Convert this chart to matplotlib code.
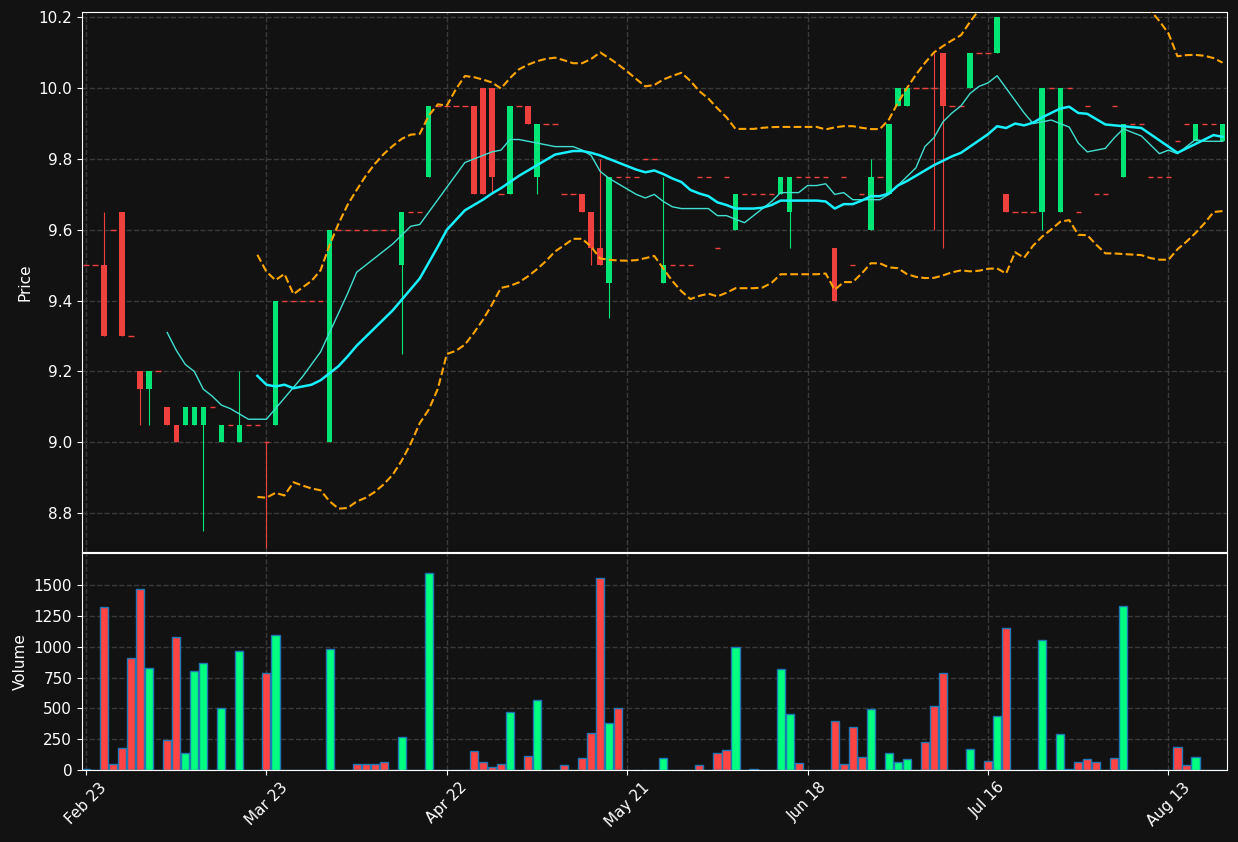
import numpy as np
import pandas as pd
import matplotlib
matplotlib.use('Agg')
import matplotlib.pyplot as plt

# daily OHLC + volume
opens = [9.5, 9.5, 9.5, 9.6, 9.65, 9.3, 9.2, 9.15, 9.2, 9.1,
         9.05, 9.05, 9.05, 9.05, 9.1, 9.0, 9.05, 9.0, 9.05, 9.05,
         9.0, 9.05, 9.4, 9.4, 9.4, 9.4, 9.4, 9.0, 9.6, 9.6,
         9.6, 9.6, 9.6, 9.6, 9.6, 9.5, 9.65, 9.65, 9.75, 9.95,
         9.95, 9.95, 9.95, 9.95, 10.0, 10.0, 9.7, 9.7, 9.95, 9.95,
         9.75, 9.9, 9.9, 9.7, 9.7, 9.7, 9.65, 9.55, 9.45, 9.75,
         9.75, 9.75, 9.8, 9.8, 9.45, 9.5, 9.5, 9.5, 9.75, 9.75,
         9.55, 9.75, 9.6, 9.7, 9.7, 9.7, 9.7, 9.7, 9.65, 9.75,
         9.75, 9.75, 9.75, 9.55, 9.75, 9.5, 9.7, 9.6, 9.75, 9.7,
         9.95, 9.95, 10.0, 10.0, 10.0, 10.1, 9.95, 9.95, 10.0, 10.1,
         10.1, 10.1, 9.7, 9.65, 9.65, 9.65, 9.65, 10.0, 9.65, 10.0,
         9.65, 9.95, 9.7, 9.7, 9.95, 9.75, 9.9, 9.9, 9.75, 9.75,
         9.75, 9.85, 9.9, 9.85, 9.9, 9.9, 9.85]
highs = [9.5, 9.5, 9.65, 9.6, 9.65, 9.3, 9.2, 9.2, 9.2, 9.1,
         9.05, 9.1, 9.1, 9.1, 9.1, 9.05, 9.05, 9.2, 9.05, 9.05,
         9.0, 9.4, 9.4, 9.4, 9.4, 9.4, 9.4, 9.6, 9.6, 9.6,
         9.6, 9.6, 9.6, 9.6, 9.6, 9.65, 9.65, 9.65, 9.95, 9.95,
         9.95, 9.95, 9.95, 9.95, 10.0, 10.0, 9.7, 9.95, 9.95, 9.95,
         9.9, 9.9, 9.9, 9.7, 9.7, 9.7, 9.65, 9.8, 9.75, 9.75,
         9.75, 9.75, 9.8, 9.8, 9.75, 9.5, 9.5, 9.5, 9.75, 9.75,
         9.55, 9.75, 9.7, 9.7, 9.7, 9.7, 9.7, 9.75, 9.75, 9.75,
         9.75, 9.75, 9.75, 9.55, 9.75, 9.5, 9.7, 9.8, 9.75, 9.9,
         10.0, 10.0, 10.0, 10.0, 10.1, 10.1, 9.95, 9.95, 10.1, 10.1,
         10.1, 10.2, 9.7, 9.65, 9.65, 9.65, 10.0, 10.0, 10.0, 10.0,
         9.65, 9.95, 9.7, 9.7, 9.95, 9.9, 9.9, 9.9, 9.75, 9.75,
         9.75, 9.85, 9.9, 9.9, 9.9, 9.9, 9.9]
lows = [9.5, 9.5, 9.3, 9.6, 9.3, 9.3, 9.05, 9.05, 9.2, 9.05,
        9.0, 9.05, 9.05, 8.75, 9.1, 9.0, 9.05, 9.0, 9.05, 9.05,
        8.70, 9.05, 9.4, 9.4, 9.4, 9.4, 9.4, 9.0, 9.6, 9.6,
        9.6, 9.6, 9.6, 9.6, 9.6, 9.25, 9.65, 9.65, 9.75, 9.95,
        9.95, 9.95, 9.95, 9.7, 9.7, 9.7, 9.7, 9.7, 9.95, 9.9,
        9.7, 9.9, 9.9, 9.7, 9.7, 9.65, 9.5, 9.5, 9.35, 9.75,
        9.75, 9.75, 9.8, 9.8, 9.45, 9.5, 9.5, 9.5, 9.75, 9.75,
        9.55, 9.75, 9.6, 9.7, 9.7, 9.7, 9.7, 9.7, 9.55, 9.75,
        9.75, 9.75, 9.75, 9.4, 9.75, 9.5, 9.7, 9.6, 9.75, 9.7,
        9.95, 9.95, 10.0, 10.0, 9.6, 9.55, 9.95, 9.95, 10.0, 10.1,
        10.1, 10.1, 9.65, 9.65, 9.65, 9.65, 9.6, 10.0, 9.65, 10.0,
        9.65, 9.95, 9.7, 9.7, 9.95, 9.75, 9.9, 9.9, 9.75, 9.75,
        9.75, 9.85, 9.9, 9.85, 9.9, 9.9, 9.85]
closes = [9.5, 9.5, 9.3, 9.6, 9.3, 9.3, 9.15, 9.2, 9.2, 9.05,
          9.0, 9.1, 9.1, 9.1, 9.1, 9.05, 9.05, 9.05, 9.05, 9.05,
          9.0, 9.4, 9.4, 9.4, 9.4, 9.4, 9.4, 9.6, 9.6, 9.6,
          9.6, 9.6, 9.6, 9.6, 9.6, 9.65, 9.65, 9.65, 9.95, 9.95,
          9.95, 9.95, 9.95, 9.7, 9.7, 9.75, 9.7, 9.95, 9.95, 9.9,
          9.9, 9.9, 9.9, 9.7, 9.7, 9.65, 9.55, 9.5, 9.75, 9.75,
          9.75, 9.75, 9.8, 9.8, 9.5, 9.5, 9.5, 9.5, 9.75, 9.75,
          9.55, 9.75, 9.7, 9.7, 9.7, 9.7, 9.7, 9.75, 9.75, 9.75,
          9.75, 9.75, 9.75, 9.4, 9.75, 9.5, 9.7, 9.75, 9.75, 9.9,
          10.0, 10.0, 10.0, 10.0, 10.0, 9.95, 9.95, 9.95, 10.1, 10.1,
          10.1, 10.2, 9.65, 9.65, 9.65, 9.65, 10.0, 10.0, 10.0, 10.0,
          9.65, 9.95, 9.7, 9.7, 9.95, 9.9, 9.9, 9.9, 9.75, 9.75,
          9.75, 9.85, 9.9, 9.9, 9.9, 9.9, 9.9]
volumes = [5, 0, 1320, 46, 176, 905, 1465, 824, 0, 240,
           1076, 135, 800, 865, 0, 500, 0, 962, 0, 0,
           784, 1092, 0, 0, 0, 0, 0, 978, 0, 0,
           46, 46, 46, 62, 0, 265, 0, 0, 1595, 0,
           0, 0, 0, 151, 62, 27, 46, 468, 0, 111,
           565, 0, 0, 38, 0, 95, 300, 1554, 378, 500,
           0, 0, 0, 0, 95, 0, 0, 0, 38, 0,
           135, 160, 995, 0, 5, 0, 0, 816, 451, 54,
           0, 0, 0, 395, 46, 346, 103, 492, 0, 141,
           62, 86, 0, 224, 516, 784, 0, 0, 168, 0,
           70, 435, 1149, 0, 0, 0, 1051, 0, 289, 5,
           62, 86, 62, 0, 95, 1327, 0, 0, 3, 3,
           0, 184, 38, 103, 0, 0, 0]
tick_labels = ['Feb 23', 'Mar 23', 'Apr 22', 'May 21', 'Jun 18', 'Jul 16', 'Aug 13']

BG = '#121212'
UP = '#00e676'
DOWN = '#ef4040'

df = pd.DataFrame({'open': opens, 'high': highs, 'low': lows, 'close': closes, 'volume': volumes})
x = np.arange(len(df))
ma10 = df['close'].rolling(10).mean()
ma20 = df['close'].rolling(20).mean()
sd20 = df['close'].rolling(20).std(ddof=0)
upper = ma20 + 2 * sd20
lower = ma20 - 2 * sd20

fig = plt.figure(figsize=(12.38, 8.42), dpi=100, facecolor=BG)
ax = fig.add_axes([0.0662, 0.3444, 0.925, 0.6413])
axv = fig.add_axes([0.0662, 0.0855, 0.925, 0.2577], sharex=ax)

up = df['close'] > df['open']
colors = np.where(up, UP, DOWN)

# wicks
ax.vlines(x, df['low'], df['high'], colors=colors, lw=0.8, zorder=2)
# bodies
body = (df['close'] - df['open']).abs()
flat = body < 1e-9
ax.bar(x[~flat], body[~flat], bottom=np.minimum(df['open'], df['close'])[~flat],
       width=0.6, color=colors[~flat], zorder=3)
ax.hlines(df['close'][flat], x[flat] - 0.3, x[flat] + 0.3, colors=colors[flat], lw=1, zorder=3)

ax.plot(x, ma10, color='#40e0d0', lw=1, zorder=4)
ax.plot(x, ma20, color='#18f0ff', lw=1.8, zorder=4)
ax.plot(x, upper, color='orange', lw=1.5, ls='--', zorder=4)
ax.plot(x, lower, color='orange', lw=1.5, ls='--', zorder=4)

axv.bar(x, df['volume'], width=0.9, color=np.where(up, '#00ff80', '#ff4444'),
        edgecolor='#1f77b4', lw=1)

for a in (ax, axv):
    a.set_facecolor(BG)
    a.grid(True, ls='--', color='#3a3a3a', lw=1)
    a.set_axisbelow(True)
    for s in a.spines.values():
        s.set_color('white')
    a.tick_params(colors='white', labelsize=11)

ax.set_xlim(-0.45, 126.5)
ax.set_ylim(8.69, 10.215)
ax.set_ylabel('Price', color='white', fontsize=11)
ax.tick_params(labelbottom=False)
axv.set_ylim(0, 1760)
axv.set_yticks([0, 250, 500, 750, 1000, 1250, 1500])
axv.set_ylabel('Volume', color='white', fontsize=11)
axv.set_xticks(np.arange(0, 121, 20))
axv.set_xticklabels(tick_labels, rotation=45)

fig.savefig('out.png', facecolor=BG)
